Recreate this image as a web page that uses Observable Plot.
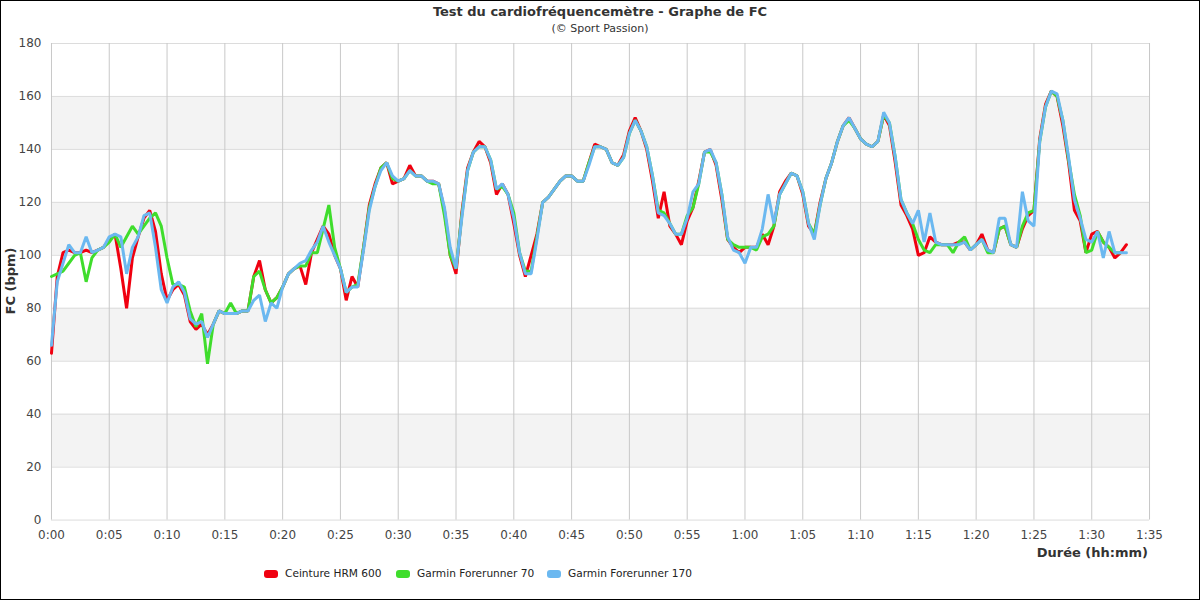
<!DOCTYPE html>
<html><head><meta charset="utf-8">
<script src="https://cdn.jsdelivr.net/npm/d3@7"></script>
<script src="https://cdn.jsdelivr.net/npm/@observablehq/plot@0.6"></script>
<style>
body{margin:0;font-family:"DejaVu Sans",sans-serif;background:#fff}
#wrap{position:relative;width:1200px;height:600px;box-sizing:border-box;border:1px solid #000;overflow:hidden;background:#fff}
#chart{position:absolute;left:-1px;top:33px}
.t{position:absolute;white-space:nowrap;color:#333}
.sw{display:inline-block;width:14px;height:8px;border-radius:3px;vertical-align:middle;margin-right:7px}
.li{position:absolute;top:565px;font-size:10.6px;line-height:14px;color:#222}
</style></head><body>
<div id="wrap">
<div class="t" style="left:0;width:1198px;top:3px;text-align:center;font-weight:bold;font-size:13px;line-height:15px">Test du cardiofréquencemètre - Graphe de FC</div>
<div class="t" style="left:0;width:1198px;top:21px;text-align:center;font-size:11px;line-height:14px">(© Sport Passion)</div>
<div id="chart"></div>
<div class="t" style="right:51px;top:544px;font-weight:bold;font-size:13px;line-height:15px">Durée (hh:mm)</div>
<div class="t" style="left:9px;top:280px;font-weight:bold;font-size:13px;line-height:15px;transform:translate(-50%,-50%) rotate(-90deg);transform-origin:center">FC (bpm)</div>
<div id="legend"></div>
</div>
<script>
const seriesNames = ["Ceinture HRM 600", "Garmin Forerunner 70", "Garmin Forerunner 170"];
const seriesColors = ["#f00010", "#3fdd2c", "#6bb8f0"];
const legendX = [263, 395, 546];

// minutes 0 .. 93 by 0.5
const minutes = d3.range(0, 93.01, 0.5);

const hrm600 = [
  63,92,101,102,101,101,102,101,102,103,
  106,108,95,80,99,107,114,117,109,93,
  83,87,89,85,75,72,74,70,74,79,
  78,78,78,79,79,92,98,87,82,84,
  88,93,95,96,89,101,106,111,108,100,
  95,83,92,88,103,119,127,133,135,127,
  128,129,134,130,130,128,128,127,117,100,
  93,116,133,139,143,141,135,123,127,123,
  112,100,92,100,108,120,122,125,128,130,
  130,128,128,135,142,141,140,135,134,138,
  147,152,147,140,128,114,124,111,108,104,
  113,118,128,139,140,134,121,106,103,101,
  103,103,103,108,104,111,124,128,131,130,
  123,111,108,120,129,135,143,149,152,148,
  144,142,141,143,153,149,135,119,115,110,
  100,101,107,105,104,104,104,105,105,102,
  104,108,102,101,110,111,104,103,110,115,
  117,144,157,162,160,149,135,117,113,101,
  108,109,105,103,99,101,104
];
const fr70 = [
  92,93,94,97,100,101,90,99,102,103,
  105,108,103,107,111,108,111,114,116,111,
  99,89,89,88,79,73,78,59,74,79,
  78,82,78,79,79,92,94,87,82,84,
  88,93,95,96,96,101,101,110,119,103,
  95,86,88,89,103,118,126,133,135,129,
  128,129,132,130,130,128,127,127,115,100,
  95,115,132,139,141,141,136,125,126,123,
  116,101,94,94,107,120,122,125,128,130,
  130,128,128,135,141,141,140,135,134,137,
  146,151,147,141,130,117,116,112,108,108,
  115,118,127,139,139,135,123,106,104,103,
  103,103,102,107,108,111,123,127,131,130,
  124,112,108,119,129,135,143,149,151,148,
  144,142,141,143,153,150,137,121,116,112,
  106,102,101,104,104,104,101,105,107,102,
  104,106,101,101,110,111,104,103,111,116,
  117,143,156,162,160,151,136,123,115,101,
  102,109,105,103,101,101,null
];
const fr170 = [
  66,90,97,104,101,101,107,101,102,103,
  107,108,107,93,103,107,115,116,103,87,
  82,88,90,86,76,74,75,69,74,79,
  78,78,78,79,79,83,85,75,82,80,
  88,93,95,97,98,102,105,111,105,100,
  95,86,88,88,102,117,126,132,135,130,
  128,129,132,130,130,128,128,127,118,103,
  95,114,132,139,141,141,136,125,127,123,
  114,101,93,93,106,120,122,125,128,130,
  130,128,128,134,141,141,140,135,134,137,
  146,151,147,141,130,116,115,112,108,108,
  114,124,127,139,140,135,123,107,102,101,
  97,103,103,110,123,112,123,127,131,130,
  124,112,106,119,129,135,143,149,152,148,
  144,142,141,143,154,150,137,121,116,112,
  117,105,116,105,104,104,104,104,105,102,
  104,106,102,101,114,114,104,103,124,113,
  111,143,156,162,161,151,137,121,114,106,
  105,109,99,109,101,101,101
];

const xTicks = d3.range(0, 96, 5);
const yTicks = d3.range(0, 181, 20);
const bandStarts = [20, 60, 100, 140];

const allSeries = [hrm600, fr70, fr170];
const rows = allSeries.map((vals, k) => minutes.map((m, i) => ({m, v: vals[i] == null ? NaN : vals[i], s: seriesNames[k]})));

const fmt = d => `${Math.floor(d / 60)}:${String(d % 60).padStart(2, "0")}`;

const chart = Plot.plot({
  width: 1200,
  height: 530,
  marginLeft: 51,
  marginRight: 50,
  marginTop: 9,
  marginBottom: 44,
  style: {fontFamily: "DejaVu Sans, sans-serif", fontSize: "12px", color: "#444", background: "transparent"},
  x: {domain: [0, 95], ticks: xTicks, tickFormat: fmt, tickSize: 0, tickPadding: 10, label: null},
  y: {domain: [0, 180], ticks: yTicks, tickSize: 0, tickPadding: 10, label: null},
  marks: [
    Plot.rect(bandStarts, {x1: 0, x2: 95, y1: d => d, y2: d => d + 20, fill: "#f3f3f3"}),
    Plot.gridY(yTicks, {stroke: "#dcdcdc", strokeOpacity: 1}),
    Plot.gridX(xTicks, {stroke: "#c8c8c8", strokeOpacity: 1}),
    ...rows.map((r, k) => Plot.line(r, {x: "m", y: "v", stroke: seriesColors[k], strokeWidth: 3, strokeLinejoin: "miter"}))
  ]
});
document.getElementById("chart").appendChild(chart);

const leg = document.getElementById("legend");
seriesNames.forEach((n, k) => {
  const d = document.createElement("div");
  d.className = "li";
  d.style.left = legendX[k] + "px";
  d.innerHTML = `<span class="sw" style="background:${seriesColors[k]}"></span>${n}`;
  leg.appendChild(d);
});
</script>
</body></html>
